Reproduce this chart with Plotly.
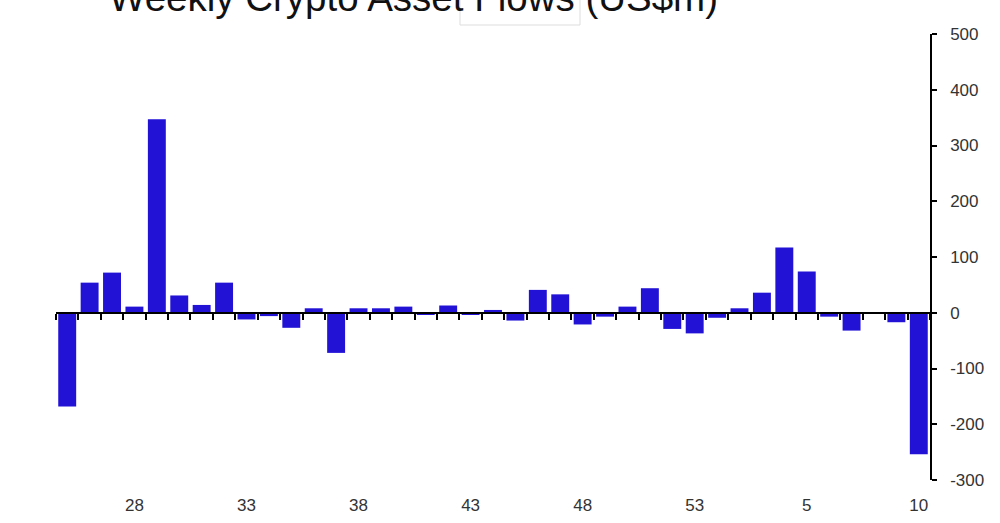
import plotly.graph_objects as go

weeks = ["25", "26", "27", "28", "29", "30", "31", "32", "33", "34", "35", "36",
         "37", "38", "39", "40", "41", "42", "43", "44", "45", "46", "47", "48",
         "49", "50", "51", "52", "53", "1", "2", "3", "4", "5", "6", "7", "8",
         "9", "10"]
flows = [-168, 54, 72, 11, 347, 31, 14, 54, -12, -6, -27, 8,
         -72, 8, 8, 11, -4, 13, -4, 5, -14, 41, 33, -21,
         -7, 11, 44, -29, -37, -9, 8, 36, 117, 74, -7, -32, 0,
         -17, -254]
tick_labels = ["28", "33", "38", "43", "48", "53", "5", "10"]
y_ticks = [-300, -200, -100, 0, 100, 200, 300, 400, 500]
y_tick_labels = ["-300", "-200", "-100", "0", "100", "200", "300", "400", "500"]
y_range = [-300, 500]
title_text = "Weekly Crypto Asset Flows (US$m)"

FONT = "Liberation Sans, Arial, Helvetica, sans-serif"

fig = go.Figure()
fig.add_trace(go.Bar(
    x=weeks, y=flows, marker=dict(color="#2112D6", line=dict(width=0)),
    xaxis="x", yaxis="y", showlegend=False,
))
# invisible helper trace for the zero-line axis carrying the boundary ticks
fig.add_trace(go.Scatter(
    x=weeks, y=[0] * len(weeks), mode="lines", line=dict(width=0),
    xaxis="x2", yaxis="y", showlegend=False, hoverinfo="skip",
))

zero_pos = (0 - y_range[0]) / (y_range[1] - y_range[0])

fig.update_layout(
    width=1000, height=523,
    margin=dict(l=56, r=70, t=34, b=43),
    paper_bgcolor="white", plot_bgcolor="white",
    bargap=0.2,
    showlegend=False,
    font=dict(family=FONT, size=17, color="#333333"),
    xaxis=dict(
        type="category", categoryorder="array", categoryarray=weeks,
        tickmode="array", tickvals=tick_labels, ticktext=tick_labels,
        showline=False, ticks="", showgrid=False, zeroline=False,
        automargin=False,
        ticklabelstandoff=13, tickfont=dict(size=17, color="#333333"),
    ),
    xaxis2=dict(
        type="category", overlaying="x", matches="x", anchor="free",
        position=zero_pos, side="bottom", automargin=False,
        showline=True, linecolor="black", linewidth=2,
        ticks="outside", tickson="boundaries", ticklen=6, tickwidth=1.5,
        tickcolor="black", tickmode="linear", tick0=0, dtick=1,
        showticklabels=False, showgrid=False, zeroline=False,
    ),
    yaxis=dict(
        side="right", range=y_range,
        tickmode="array", tickvals=y_ticks, ticktext=y_tick_labels,
        showline=True, linecolor="black", linewidth=1.5,
        ticks="outside", ticklen=5, tickcolor="black", tickwidth=1.5,
        showgrid=False, zeroline=False, automargin=False,
        ticklabelstandoff=10, tickfont=dict(size=17, color="#333333"),
    ),
    shapes=[dict(
        type="rect", xref="paper", yref="paper",
        x0=(460 - 56) / 874, x1=(580 - 56) / 874,
        y0=1 + (34 - 25) / 446, y1=1.3,
        line=dict(color="#dddddd", width=1), fillcolor="white", layer="below",
    )],
    annotations=[dict(
        text=title_text, xref="paper", yref="paper",
        x=(413.5 - 56) / 874, y=1, xanchor="center", yanchor="bottom",
        yshift=13, showarrow=False,
        font=dict(family=FONT, size=38.5, color="#111111"),
    )],
)

fig.write_html(
    "out.html",
    config={"displayModeBar": False},
    post_script="document.body.style.margin='0';document.body.style.padding='0';",
)
